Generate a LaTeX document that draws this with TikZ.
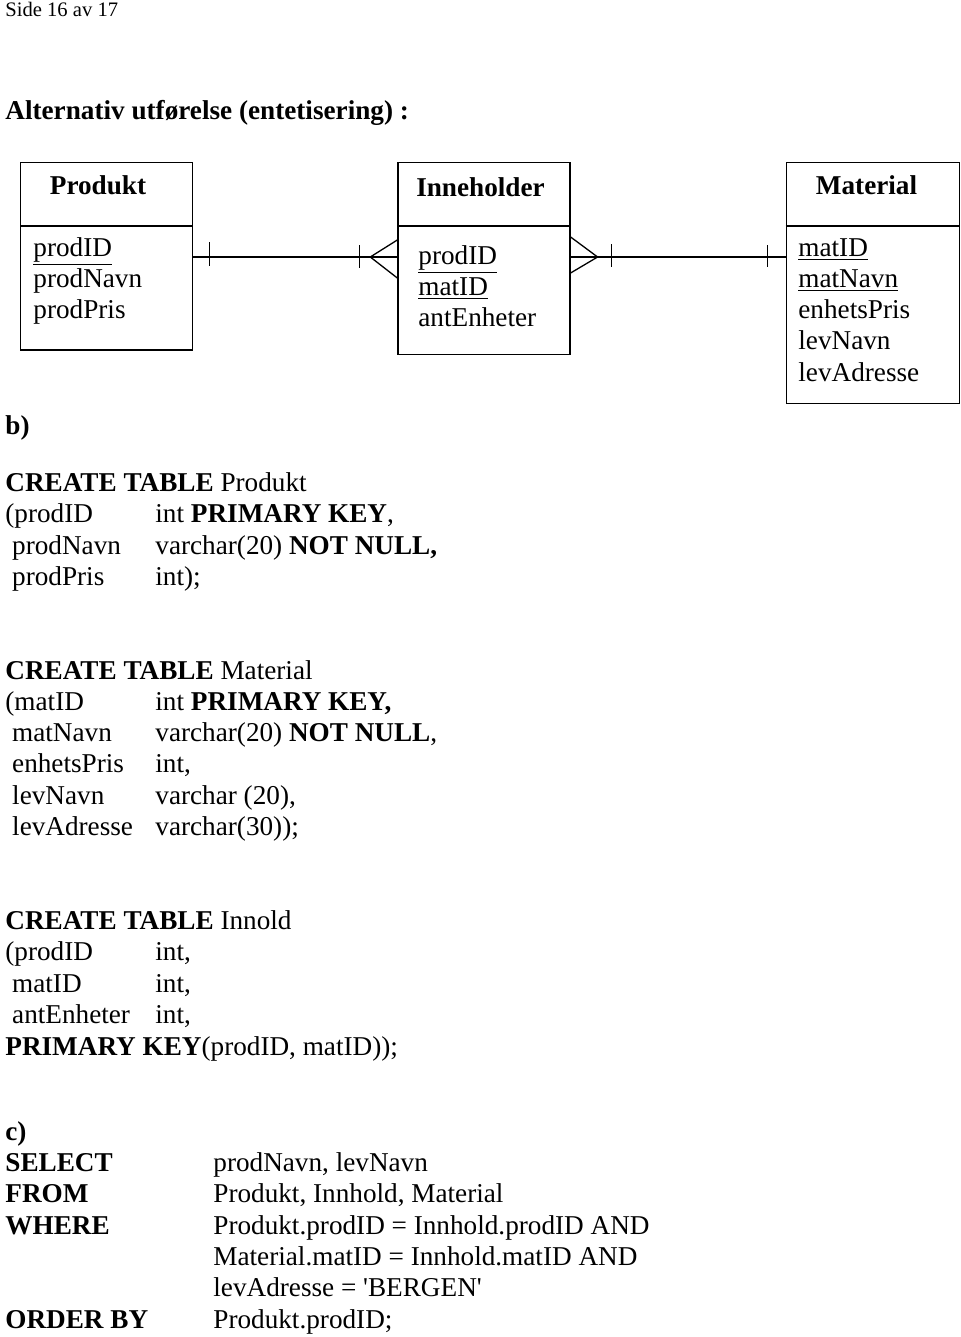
\documentclass[tikz,border=0pt]{standalone}
\usepackage{fontspec}
\setmainfont{Liberation Serif}
\usetikzlibrary{calc}
\tikzset{
    doctext/.style = {font=\fontsize{13.6}{15.65}\selectfont, anchor=base west, align=left, inner sep=0pt},
    boldtext/.style = {doctext, font=\fontsize{13.6}{15.65}\selectfont\bfseries},
    headtext/.style = {font=\fontsize{10.3}{12}\selectfont, anchor=base west, inner sep=0pt},
    titletext/.style = {font=\fontsize{13.6}{15.65}\selectfont\bfseries, anchor=base, inner sep=0pt},
    entity/.style = {draw, line width=0.65pt, anchor=north west, inner sep=0pt},
    relline/.style = {line width=0.65pt},
    thickline/.style = {line width=1.3pt}
}

\begin{document}
\begin{tikzpicture}[x=0.5pt,y=-0.5pt]
    \useasboundingbox (0,0) rectangle (960,1337);

    % page header
    \node[headtext] (side) at (5,17) {Side 16 av 17};
    \node[boldtext] (alt) at (5,120) {Alternativ utførelse (entetisering) :};

    % entities
    \node[entity, minimum width=86pt, minimum height=93.8pt] (prod) at (20,161.7) {};
    \node[entity, minimum width=86pt, minimum height=96.2pt] (inn) at (397.3,161.7) {};
    \node[entity, minimum width=86.7pt, minimum height=120.5pt] (mat) at (785.7,161.7) {};

    \coordinate (hdr) at (0,226);
    \draw[relline] (prod.west |- hdr) -- (prod.east |- hdr);
    \draw[relline] (inn.west |- hdr) -- (inn.east |- hdr);
    \draw[relline] (mat.west |- hdr) -- (mat.east |- hdr);

    \node[titletext] (prodT) at (98,195) {Produkt};
    \node[titletext] (innT) at (480.5,197) {Inneholder};
    \node[titletext] (matT) at (866.5,195) {Material};

    % base = last line
    \node[doctext] (prodA) at (33,318.6) {\underline{prodID}\\prodNavn\\prodPris};
    \node[doctext] (innA) at (418,326.6) {\underline{prodID}\\\underline{matID}\\antEnheter};
    \node[doctext] (matA) at (798,381.2) {\underline{matID}\\\underline{matNavn}\\enhetsPris\\levNavn\\levAdresse};

    % Produkt -- Inneholder
    \coordinate (lnk) at (0,257);
    \coordinate (prodR) at (prod.east |- lnk);
    \coordinate (innL) at (inn.west |- lnk);
    \draw[relline] (prodR) -- (innL);
    \draw[relline] ($(prodR)+(16,-15)$) -- ++(0,24);
    \draw[thickline] ($(innL)+(-58,0)$) -- (innL);
    \draw[relline] ($(innL)+(-38,-12)$) -- ++(0,23);
    \draw[relline] ($(innL)+(0,-17)$) -- ($(innL)+(-27,0)$) -- ($(innL)+(0,21)$);

    % Inneholder -- Material
    \coordinate (innR) at (inn.east |- lnk);
    \coordinate (matL) at (mat.west |- lnk);
    \draw[relline] (innR) -- (matL);
    \draw[thickline] (innR) -- ($(innR)+(57,0)$);
    \draw[relline] ($(innR)+(0,-20)$) -- ($(innR)+(27,0)$) -- ($(innR)+(0,16)$);
    \draw[relline] ($(innR)+(41,-13)$) -- ++(0,23);
    \draw[relline] ($(matL)+(-18,-12)$) -- ++(0,22);

    % b)
    \node[boldtext] (partB) at (5,434.5) {b)};

    \node[doctext] (prodS) at (5,585.4) {\textbf{CREATE TABLE} Produkt\\(prodID\\\ prodNavn\\\ prodPris};
    \node[doctext] (prodC) at (155,585.4) {int \textbf{PRIMARY KEY},\\varchar(20) \textbf{NOT NULL,}\\int);};

    \node[doctext] (matS) at (5,835.5) {\textbf{CREATE TABLE} Material\\(matID\\\ matNavn\\\ enhetsPris\\\ levNavn\\\ levAdresse};
    \node[doctext] (matC) at (155,835.5) {int \textbf{PRIMARY KEY,}\\varchar(20) \textbf{NOT NULL},\\int,\\varchar (20),\\varchar(30));};

    \node[doctext] (innS) at (5,1023.3) {\textbf{CREATE TABLE} Innold\\(prodID\\\ matID\\\ antEnheter};
    \node[doctext] (innC) at (155,1023.3) {int,\\int,\\int,};
    \node[doctext] (innK) at (5,1055) {\textbf{PRIMARY KEY}(prodID, matID));};

    % c)
    \node[doctext] (qryS) at (5,1328) {\textbf{c)}\\\textbf{SELECT}\\\textbf{FROM}\\\textbf{WHERE}\\\mbox{}\\\mbox{}\\\textbf{ORDER BY}};
    \node[doctext] (qryC) at (213,1328) {prodNavn, levNavn\\Produkt, Innhold, Material\\Produkt.prodID = Innhold.prodID AND\\Material.matID = Innhold.matID AND\\levAdresse = \textquotesingle BERGEN\textquotesingle\\Produkt.prodID;};

\end{tikzpicture}
\end{document}
